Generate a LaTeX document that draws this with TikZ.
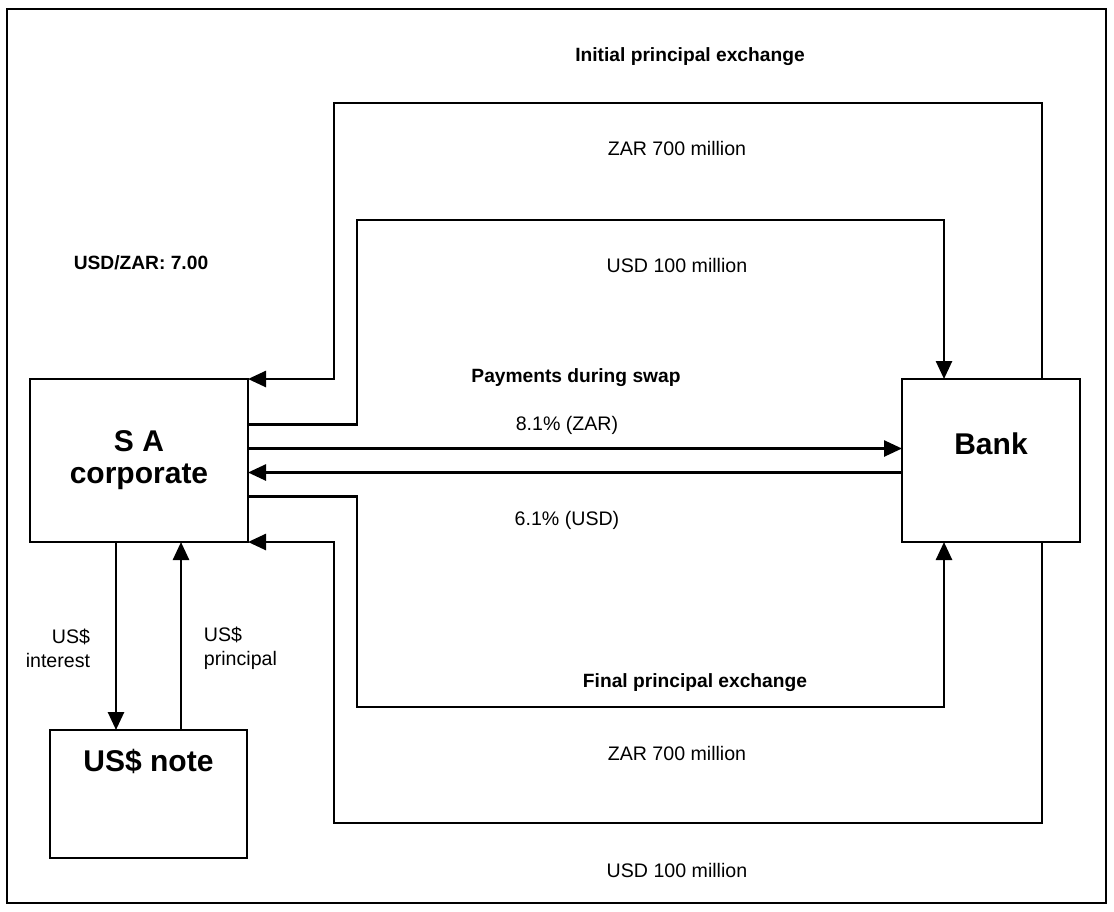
\documentclass[tikz,border=0pt]{standalone}
\usepackage{fontspec}
\setmainfont{Liberation Sans}
\usetikzlibrary{arrows.meta}

\begin{document}
\begin{tikzpicture}[x=0.5pt,y=-0.5pt,>={Triangle[length=9pt,width=8pt]},line width=1.3pt,
        party/.style={draw,rectangle,inner sep=0pt,outer sep=0pt,align=center,
            font=\fontsize{15}{16}\selectfont\bfseries},
        lbl/.style={font=\fontsize{9.8}{12}\selectfont},
        head/.style={font=\fontsize{9.6}{12}\selectfont\bfseries}]
        \useasboundingbox (0,0) rectangle (1114,911);
        \draw (7,9) rectangle (1106,903);

        % Nodes
        \node[party,minimum width=109pt,minimum height=81.5pt] (sa) at (139,460.5) {S A\\corporate};
        \node[party,minimum width=89pt,minimum height=81.5pt,text depth=17pt] (bank) at (991,460.5) {Bank};
        \node[party,minimum width=98.5pt,minimum height=64pt,text depth=34pt] (note) at (148.5,794) {US\$ note};

        % Lanes
        \coordinate (laneL) at (334,0);
        \coordinate (laneM) at (357,0);
        \coordinate (laneI) at (944,0);
        \coordinate (laneO) at (1042,0);
        \coordinate (top1) at (0,103);
        \coordinate (top2) at (0,220);
        \coordinate (bot2) at (0,707);
        \coordinate (bot1) at (0,823);
        \coordinate (intX) at (116,0);
        \coordinate (prinX) at (181,0);

        % Connections
        \draw[->] (bank.north -| laneO) |- (top1 -| laneL) |- (sa.north east);
        \draw[->] ([yshift=18pt]sa.east) -| (top2 -| laneM) -| (bank.north -| laneI);
        \draw[->] ([yshift=6pt]sa.east) -- ([yshift=6pt]bank.west);
        \draw[->] ([yshift=-6pt]bank.west) -- ([yshift=-6pt]sa.east);
        \draw[->] ([yshift=-18pt]sa.east) -| (bot2 -| laneM) -| (bank.south -| laneI);
        \draw[->] (bank.south -| laneO) |- (bot1 -| laneL) |- (sa.south east);
        \draw[->] (sa.south -| intX) -- (note.north -| intX);
        \draw[->] (note.north -| prinX) -- (sa.south -| prinX);

        % Labels
        \node[head] (initial) at (690,57) {Initial principal exchange};
        \node[lbl] (zarIn) at (677,148) {ZAR 700 million};
        \node[lbl] (usdIn) at (677,265) {USD 100 million};
        \node[head] (rate) at (141,263) {USD/ZAR: 7.00};
        \node[head] (during) at (576,378) {Payments during swap};
        \node[lbl] (zarPay) at (567,425) {8.1\% (ZAR)};
        \node[lbl] (usdPay) at (567,520) {6.1\% (USD)};
        \node[head] (final) at (695,683) {Final principal exchange};
        \node[lbl] (zarOut) at (677,753) {ZAR 700 million};
        \node[lbl] (usdOut) at (677,870) {USD 100 million};
        \node[lbl,anchor=east,align=right] (interest) at (98,648) {US\$\\interest};
        \node[lbl,anchor=west,align=left] (principal) at (196,648) {US\$\\principal};
    \end{tikzpicture}
\end{document}
